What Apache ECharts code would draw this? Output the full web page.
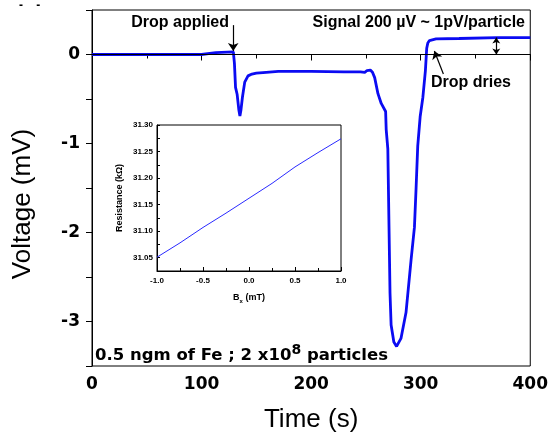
<!DOCTYPE html>
<html>
<head>
<meta charset="utf-8">
<script src="https://cdn.jsdelivr.net/npm/echarts@6/dist/echarts.min.js"></script>
<style>
html,body{margin:0;padding:0;background:#fff;}
#c{width:551px;height:438px;}
</style>
</head>
<body>
<div id="c"></div>
<script>
// Main trace: time (s) and voltage (mV)
var timeS = [0, 20, 40, 60, 80, 100, 101, 113, 114, 129, 130, 131, 132.5, 134, 135, 136, 137.3, 139.4, 142.4, 146, 150, 159, 170, 200, 230, 245, 249, 251, 254, 256, 258, 261, 264, 268, 268.5, 270, 271, 272, 273, 275.5, 278, 282, 286.6, 291.2, 294.3, 295.8, 297.3, 299.5, 302, 304.3, 305.5, 306.5, 308, 314, 335, 336, 370, 400];
var voltageMV = [0, 0, 0, 0, 0, 0, 0.02, 0.02, 0.03, 0.03, -0.1, -0.37, -0.45, -0.62, -0.69, -0.62, -0.48, -0.31, -0.24, -0.22, -0.21, -0.2, -0.19, -0.19, -0.195, -0.195, -0.2, -0.18, -0.175, -0.2, -0.26, -0.44, -0.55, -0.64, -0.84, -1.06, -1.87, -2.68, -3.04, -3.23, -3.28, -3.19, -2.9, -2.31, -1.94, -1.5, -1.03, -0.7, -0.48, -0.18, 0.07, 0.13, 0.157, 0.175, 0.18, 0.19, 0.19, 0.19];

// Inset: field (mT) and resistance (kOhm)
var fieldMT = [-1.0, -0.75, -0.5, -0.25, 0.0, 0.25, 0.5, 0.75, 1.0];
var resistanceK = [31.051, 31.078, 31.107, 31.134, 31.162, 31.19, 31.221, 31.248, 31.274];

// Annotation anchor points (data coordinates)
var dropAppliedArrow = [[128.9, 0.33], [128.9, 0.04]];
var dropDriesArrow = [[320.7, -0.22], [312.5, 0.04]];
var signalArrow = [[369, 0.0], [369, 0.19]];

var mainData = timeS.map(function (t, i) { return [t, voltageMV[i]]; });
var insetData = fieldMT.map(function (b, i) { return [b, resistanceK[i]]; });

var chart = echarts.init(document.getElementById('c'), null, {renderer: 'canvas'});

var tickFont = {fontFamily: 'DejaVu Sans', fontWeight: 'bold', fontSize: 17, color: '#000'};
var insetFont = {fontFamily: 'Liberation Sans', fontWeight: 'bold', fontSize: 8, color: '#000'};

function arrowLine(p, size) {
  return [{coord: p[0], symbol: 'none'}, {coord: p[1], symbol: 'arrow', symbolSize: size}];
}

var option = {
  animation: false,
  backgroundColor: '#fff',
  grid: [
    {left: 92, right: 19, top: 10, bottom: 68, show: true, borderColor: '#000', borderWidth: 1, backgroundColor: 'transparent'},
    {left: 157, top: 125, width: 184, height: 146, show: true, borderColor: '#000', borderWidth: 1, backgroundColor: '#fff', z: 5}
  ],
  xAxis: [
    {
      gridIndex: 0, type: 'value', min: 0, max: 400, interval: 100,
      name: 'Time (s)', nameLocation: 'middle', nameGap: 41,
      nameTextStyle: {fontFamily: 'Liberation Sans', fontSize: 26, color: '#000'},
      axisLine: {lineStyle: {color: '#000', width: 1}},
      axisTick: {inside: false, length: 6, lineStyle: {color: '#000'}},
      minorTick: {show: true, splitNumber: 2, length: 4, lineStyle: {color: '#000'}},
      splitLine: {show: false},
      axisLabel: Object.assign({margin: 10}, tickFont)
    },
    {
      gridIndex: 1, type: 'value', min: -1, max: 1, interval: 0.5,
      name: '{b|B}{s|x}{b| (mT)}', nameLocation: 'middle', nameGap: 21,
      nameTextStyle: {rich: {
        b: {fontFamily: 'Liberation Sans', fontWeight: 'bold', fontSize: 9, color: '#000'},
        s: {fontFamily: 'Liberation Sans', fontWeight: 'bold', fontSize: 6, color: '#000', verticalAlign: 'bottom', padding: [6, 0, 0, 0]}
      }},
      axisLine: {onZero: false, lineStyle: {color: '#000', width: 1}},
      axisTick: {inside: true, length: 4, lineStyle: {color: '#000'}},
      minorTick: {show: true, splitNumber: 2, length: 3, lineStyle: {color: '#000'}},
      splitLine: {show: false},
      axisLabel: Object.assign({margin: 6, formatter: function (v) { return v.toFixed(1); }}, insetFont),
      z: 6
    }
  ],
  yAxis: [
    {
      gridIndex: 0, type: 'value', min: -3.5, max: 0.5, interval: 0.5,
      axisLine: {onZero: false, lineStyle: {color: '#000', width: 1}},
      axisTick: {inside: false, length: 6, lineStyle: {color: '#000'}},
      splitLine: {show: false},
      axisLabel: Object.assign({margin: 12, formatter: function (v) { return Number.isInteger(v) ? String(v) : ''; }}, tickFont)
    },
    {
      gridIndex: 1, type: 'value', min: 31.025, max: 31.30, interval: 0.025,
      name: 'Resistance (kΩ)', nameLocation: 'middle', nameGap: 33,
      nameTextStyle: {fontFamily: 'Liberation Sans', fontWeight: 'bold', fontSize: 9, color: '#000'},
      axisLine: {onZero: false, lineStyle: {color: '#000', width: 1}},
      axisTick: {inside: true, length: 3, lineStyle: {color: '#000'}},
      splitLine: {show: false},
      axisLabel: Object.assign({margin: 4, formatter: function (v) {
        return Math.round(v * 1000) % 50 === 0 ? v.toFixed(2) : '';
      }}, insetFont),
      z: 6
    }
  ],
  series: [
    {
      type: 'line', xAxisIndex: 0, yAxisIndex: 0, data: [], z: 1,
      markLine: {
        silent: true, symbol: 'none', animation: false,
        label: {show: false},
        lineStyle: {color: '#000', width: 1, type: 'solid'},
        data: [{yAxis: 0}]
      }
    },
    {
      type: 'line', xAxisIndex: 0, yAxisIndex: 0, data: mainData, z: 3,
      showSymbol: false, symbol: 'none',
      lineStyle: {color: '#0b0bf2', width: 2.8},
      itemStyle: {color: '#0b0bf2'}
    },
    {
      type: 'line', xAxisIndex: 0, yAxisIndex: 0, data: [], z: 4,
      markLine: {
        silent: true, animation: false, label: {show: false},
        lineStyle: {color: '#000', width: 1.2, type: 'solid'},
        data: [
          arrowLine(dropAppliedArrow, 8),
          arrowLine(dropDriesArrow, 8),
          [{coord: signalArrow[0], symbol: 'arrow', symbolSize: 6}, {coord: signalArrow[1], symbol: 'arrow', symbolSize: 6}]
        ]
      }
    },
    {
      type: 'line', xAxisIndex: 1, yAxisIndex: 1, data: insetData, z: 7,
      showSymbol: false, symbol: 'none',
      lineStyle: {color: '#2a2aff', width: 1},
      itemStyle: {color: '#2a2aff'}
    }
  ],
  graphic: [
    {type: 'text', left: 19, top: 0, style: {text: '-    -', fontFamily: 'Liberation Sans', fontWeight: 'bold', fontSize: 12, fill: '#000'}},
    {type: 'text', x: 23, y: 204, rotation: Math.PI / 2, style: {text: 'Voltage (mV)', align: 'center', verticalAlign: 'middle', fontFamily: 'Liberation Sans', fontSize: 26, fill: '#000'}},
    {type: 'text', x: 229, y: 23, style: {text: 'Drop applied', align: 'right', verticalAlign: 'middle', fontFamily: 'Liberation Sans', fontWeight: 'bold', fontSize: 16, fill: '#000'}},
    {type: 'text', x: 525, y: 23, style: {text: 'Signal 200 µV ~ 1pV/particle', align: 'right', verticalAlign: 'middle', fontFamily: 'Liberation Sans', fontWeight: 'bold', fontSize: 16, fill: '#000'}},
    {type: 'text', x: 431, y: 83, style: {text: 'Drop dries', align: 'left', verticalAlign: 'middle', fontFamily: 'Liberation Sans', fontWeight: 'bold', fontSize: 16, fill: '#000'}},
    {type: 'text', x: 95, y: 356, z: 10, style: {
      text: '{a|0.5 ngm of Fe ; 2 x10}{s|8}{a| particles}', align: 'left', verticalAlign: 'middle',
      rich: {
        a: {fontFamily: 'DejaVu Sans', fontWeight: 'bold', fontSize: 16.5, fill: '#000', color: '#000'},
        s: {fontFamily: 'DejaVu Sans', fontWeight: 'bold', fontSize: 14, fill: '#000', color: '#000', verticalAlign: 'top', padding: [0, 0, 12, 0]}
      }
    }}
  ]
};
chart.setOption(option);
</script>
</body>
</html>
